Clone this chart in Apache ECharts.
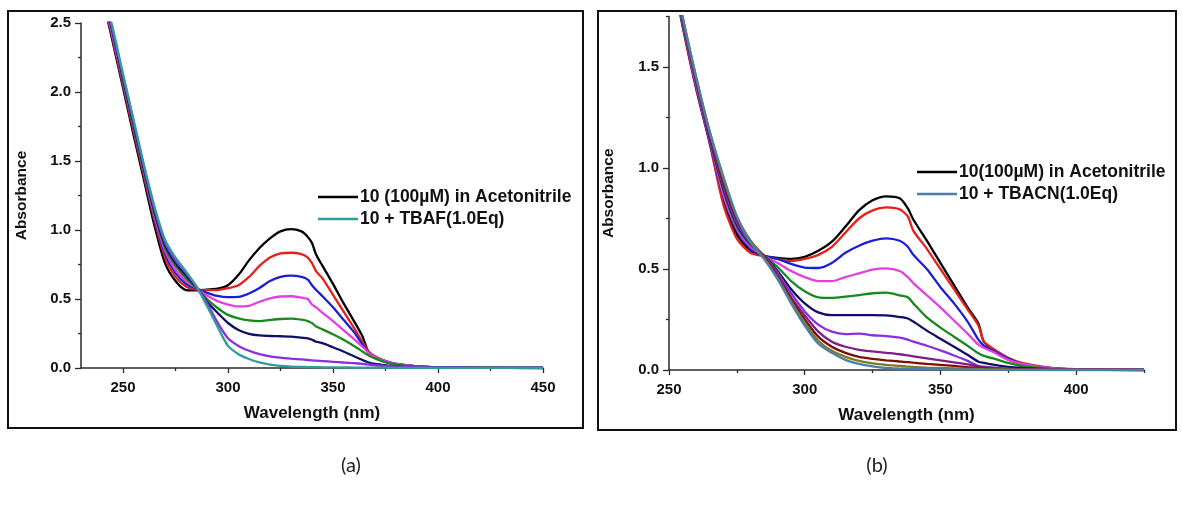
<!DOCTYPE html>
<html>
<head>
<meta charset="utf-8">
<script src="https://cdn.jsdelivr.net/npm/echarts@6/dist/echarts.min.js"></script>
<style>
  html, body { margin: 0; padding: 0; background: #fff; }
  #chart { width: 1182px; height: 506px; }
</style>
</head>
<body>
<div id="chart"></div>
<script>
// UV-vis titration spectra of compound 10 in acetonitrile
// (a) with TBAF, (b) with TBACN

// ---- panel (a): wavelengths (nm) ----
const wlA = [240, 245, 250, 255, 260, 265, 270, 275, 280, 285, 290, 295, 300, 305, 310, 315, 320, 325, 330, 335, 338, 340, 342, 345, 350, 355, 360, 364, 367, 370, 375, 380, 390, 400, 420, 450];

const a_black   = [2.70, 2.37, 2.03, 1.69, 1.36, 1.03, 0.76, 0.63, 0.565, 0.562, 0.568, 0.575, 0.60, 0.675, 0.78, 0.87, 0.94, 0.99, 1.007, 0.99, 0.95, 0.905, 0.82, 0.74, 0.61, 0.47, 0.34, 0.23, 0.11, 0.075, 0.045, 0.028, 0.012, 0.005, 0.002, 0];
const a_red     = [2.71, 2.39, 2.05, 1.72, 1.39, 1.07, 0.80, 0.66, 0.59, 0.568, 0.565, 0.565, 0.578, 0.60, 0.66, 0.74, 0.80, 0.83, 0.835, 0.825, 0.80, 0.76, 0.70, 0.65, 0.53, 0.41, 0.29, 0.19, 0.12, 0.085, 0.05, 0.03, 0.012, 0.005, 0.002, 0];
const a_blue    = [2.72, 2.40, 2.07, 1.74, 1.41, 1.09, 0.83, 0.69, 0.61, 0.575, 0.545, 0.522, 0.513, 0.515, 0.54, 0.58, 0.63, 0.66, 0.67, 0.66, 0.64, 0.60, 0.565, 0.52, 0.44, 0.35, 0.26, 0.17, 0.11, 0.08, 0.05, 0.03, 0.012, 0.005, 0.002, 0];
const a_magenta = [2.72, 2.41, 2.08, 1.75, 1.42, 1.10, 0.85, 0.71, 0.63, 0.578, 0.525, 0.485, 0.46, 0.446, 0.45, 0.48, 0.505, 0.518, 0.52, 0.51, 0.50, 0.46, 0.44, 0.40, 0.34, 0.275, 0.21, 0.155, 0.11, 0.08, 0.05, 0.03, 0.012, 0.005, 0.002, 0];
const a_green   = [2.73, 2.43, 2.09, 1.76, 1.43, 1.12, 0.87, 0.74, 0.65, 0.58, 0.50, 0.435, 0.385, 0.36, 0.345, 0.34, 0.348, 0.355, 0.358, 0.35, 0.34, 0.325, 0.30, 0.28, 0.245, 0.205, 0.16, 0.12, 0.09, 0.07, 0.042, 0.025, 0.01, 0.004, 0.002, 0];
const a_navy    = [2.73, 2.44, 2.10, 1.77, 1.44, 1.13, 0.89, 0.76, 0.67, 0.585, 0.48, 0.40, 0.326, 0.275, 0.248, 0.236, 0.232, 0.23, 0.228, 0.22, 0.215, 0.205, 0.19, 0.18, 0.15, 0.12, 0.085, 0.058, 0.04, 0.03, 0.02, 0.012, 0.006, 0.003, 0.001, 0];
const a_violet  = [2.74, 2.45, 2.12, 1.79, 1.46, 1.15, 0.91, 0.78, 0.69, 0.59, 0.47, 0.33, 0.215, 0.16, 0.125, 0.10, 0.085, 0.075, 0.068, 0.062, 0.058, 0.055, 0.053, 0.05, 0.045, 0.04, 0.035, 0.03, 0.025, 0.02, 0.015, 0.01, 0.005, 0.003, 0.001, 0];
const a_teal    = [2.75, 2.47, 2.13, 1.80, 1.47, 1.17, 0.93, 0.80, 0.70, 0.59, 0.45, 0.30, 0.16, 0.10, 0.065, 0.04, 0.025, 0.015, 0.01, 0.008, 0.007, 0.006, 0.006, 0.005, 0.004, 0.004, 0.003, 0.003, 0.002, 0.002, 0.002, 0.001, 0.001, 0, 0, 0];

// ---- panel (b): wavelengths (nm) ----
const wlB = [250, 255, 260, 265, 270, 275, 280, 285, 290, 295, 300, 305, 310, 315, 320, 325, 330, 335, 338, 340, 345, 350, 355, 360, 364, 366, 370, 375, 380, 390, 400, 425];

const b_black   = [2.05, 1.71, 1.40, 1.13, 0.84, 0.67, 0.59, 0.565, 0.555, 0.55, 0.56, 0.59, 0.635, 0.71, 0.79, 0.84, 0.86, 0.85, 0.80, 0.745, 0.64, 0.53, 0.42, 0.31, 0.23, 0.14, 0.095, 0.055, 0.03, 0.01, 0.003, 0];
const b_red     = [2.04, 1.70, 1.39, 1.12, 0.82, 0.65, 0.58, 0.563, 0.55, 0.54, 0.55, 0.57, 0.61, 0.68, 0.75, 0.79, 0.805, 0.795, 0.76, 0.69, 0.60, 0.50, 0.40, 0.30, 0.22, 0.14, 0.10, 0.06, 0.035, 0.012, 0.004, 0];
const b_blue    = [2.05, 1.71, 1.40, 1.13, 0.86, 0.69, 0.60, 0.565, 0.55, 0.525, 0.507, 0.505, 0.53, 0.58, 0.615, 0.64, 0.652, 0.64, 0.61, 0.57, 0.50, 0.41, 0.33, 0.24, 0.15, 0.12, 0.09, 0.055, 0.03, 0.01, 0.003, 0];
const b_magenta = [2.06, 1.72, 1.41, 1.14, 0.87, 0.70, 0.61, 0.565, 0.53, 0.49, 0.46, 0.44, 0.44, 0.46, 0.478, 0.497, 0.503, 0.49, 0.46, 0.43, 0.37, 0.31, 0.245, 0.18, 0.125, 0.11, 0.085, 0.05, 0.03, 0.01, 0.003, 0];
const b_green   = [2.06, 1.72, 1.42, 1.15, 0.89, 0.71, 0.62, 0.566, 0.51, 0.44, 0.39, 0.36, 0.357, 0.363, 0.371, 0.38, 0.383, 0.37, 0.36, 0.33, 0.26, 0.21, 0.165, 0.12, 0.083, 0.07, 0.055, 0.035, 0.02, 0.007, 0.002, 0];
const b_navy    = [2.07, 1.73, 1.43, 1.15, 0.90, 0.72, 0.625, 0.566, 0.49, 0.40, 0.33, 0.285, 0.272, 0.272, 0.272, 0.272, 0.27, 0.262, 0.255, 0.24, 0.195, 0.155, 0.115, 0.075, 0.041, 0.035, 0.025, 0.015, 0.01, 0.004, 0.001, 0];
const b_violet  = [2.07, 1.73, 1.43, 1.16, 0.91, 0.73, 0.63, 0.565, 0.48, 0.38, 0.29, 0.225, 0.19, 0.178, 0.18, 0.172, 0.168, 0.16, 0.15, 0.14, 0.12, 0.097, 0.072, 0.045, 0.02, 0.015, 0.01, 0.006, 0.004, 0.002, 0.001, 0];
const b_purple  = [2.08, 1.74, 1.44, 1.17, 0.92, 0.74, 0.635, 0.563, 0.47, 0.36, 0.27, 0.19, 0.14, 0.115, 0.10, 0.092, 0.085, 0.078, 0.072, 0.068, 0.058, 0.048, 0.038, 0.028, 0.018, 0.015, 0.01, 0.006, 0.004, 0.002, 0.001, 0];
const b_maroon  = [2.08, 1.74, 1.44, 1.17, 0.93, 0.75, 0.64, 0.56, 0.46, 0.35, 0.25, 0.165, 0.115, 0.085, 0.065, 0.055, 0.048, 0.042, 0.039, 0.036, 0.03, 0.025, 0.02, 0.014, 0.01, 0.008, 0.005, 0.003, 0.002, 0.001, 0, 0];
const b_olive   = [2.09, 1.75, 1.45, 1.18, 0.95, 0.76, 0.64, 0.555, 0.455, 0.34, 0.235, 0.145, 0.095, 0.065, 0.045, 0.033, 0.025, 0.02, 0.017, 0.015, 0.012, 0.01, 0.008, 0.006, 0.005, 0.004, 0.003, 0.002, 0.001, 0, 0, 0];
const b_steel   = [2.09, 1.75, 1.45, 1.18, 0.96, 0.76, 0.63, 0.55, 0.45, 0.33, 0.22, 0.13, 0.085, 0.05, 0.03, 0.018, 0.01, 0.007, 0.006, 0.005, 0.004, 0.003, 0.002, 0.002, 0.001, 0.001, 0.001, 0, 0, 0, 0, 0];

// ---- axis ticks ----
const xMajorA = [250, 300, 350, 400, 450];
const xMinorA = [275, 325, 375, 425];
const yMajorA = [0, 0.5, 1.0, 1.5, 2.0, 2.5];
const yMinorA = [0.25, 0.75, 1.25, 1.75, 2.25];
const xMajorB = [250, 300, 350, 400];
const xMinorB = [275, 325, 375, 425];
const yMajorB = [0, 0.5, 1.0, 1.5];
const yMinorB = [0.25, 0.75, 1.25, 1.75];

// ---- legend labels ----
const legendA = ['10 (100\u00B5M) in Acetonitrile', '10 + TBAF(1.0Eq)'];
const legendB = ['10(100\u00B5M) in Acetonitrile', '10 + TBACN(1.0Eq)'];

const FONT = '"Liberation Sans", Arial, sans-serif';
const AXIS_COLOR = '#2a2a2a';
const TEXT_COLOR = '#111';

function pairs(xs, ys) { return xs.map((x, i) => [x, ys[i]]); }

function lineSeries(name, xs, ys, color, xi, yi) {
  return {
    type: 'line', name: name, data: pairs(xs, ys),
    xAxisIndex: xi, yAxisIndex: yi,
    showSymbol: false, smooth: 0.25, clip: true,
    lineStyle: { color: color, width: 2.3 }, itemStyle: { color: color },
    emphasis: { disabled: true }, silent: true
  };
}

function mainX(grid, min, max, ticks) {
  return {
    type: 'value', gridIndex: grid, min: min, max: max,
    name: 'Wavelength (nm)', nameLocation: 'middle', nameGap: 37,
    nameTextStyle: { fontFamily: FONT, fontWeight: 'bold', fontSize: 17, color: TEXT_COLOR },
    axisLine: { show: true, onZero: false, lineStyle: { color: AXIS_COLOR, width: 1.5 } },
    axisTick: { show: true, inside: false, length: 5, customValues: ticks, lineStyle: { color: AXIS_COLOR, width: 1.3 } },
    axisLabel: { customValues: ticks, margin: 12, fontFamily: FONT, fontWeight: 'bold', fontSize: 15, color: TEXT_COLOR },
    splitLine: { show: false }
  };
}
function minorX(grid, min, max, ticks) {
  return {
    type: 'value', gridIndex: grid, min: min, max: max, position: 'bottom',
    axisLine: { show: false, onZero: false },
    axisTick: { show: true, inside: false, length: 3, customValues: ticks, lineStyle: { color: AXIS_COLOR, width: 1.3 } },
    axisLabel: { show: false }, splitLine: { show: false }
  };
}
function mainY(grid, min, max, ticks, gap) {
  return {
    type: 'value', gridIndex: grid, min: min, max: max,
    name: 'Absorbance', nameLocation: 'middle', nameGap: gap,
    nameTextStyle: { fontFamily: FONT, fontWeight: 'bold', fontSize: 15.5, color: TEXT_COLOR },
    axisLine: { show: true, onZero: false, lineStyle: { color: AXIS_COLOR, width: 1.5 } },
    axisTick: { show: true, inside: false, length: 6, customValues: ticks, lineStyle: { color: AXIS_COLOR, width: 1.3 } },
    axisLabel: { customValues: ticks, margin: 10, formatter: v => v.toFixed(1), fontFamily: FONT, fontWeight: 'bold', fontSize: 15, color: TEXT_COLOR },
    splitLine: { show: false }
  };
}
function minorY(grid, min, max, ticks) {
  return {
    type: 'value', gridIndex: grid, min: min, max: max, position: 'left',
    axisLine: { show: false, onZero: false },
    axisTick: { show: true, inside: false, length: 3, customValues: ticks, lineStyle: { color: AXIS_COLOR, width: 1.3 } },
    axisLabel: { show: false }, splitLine: { show: false }
  };
}

function legendBox(left, top, names) {
  return {
    orient: 'vertical', left: left, top: top, data: names,
    icon: 'rect', itemWidth: 40, itemHeight: 2.5, itemGap: 4,
    selectedMode: false, padding: 0,
    textStyle: { fontFamily: FONT, fontWeight: 'bold', fontSize: 17.5, color: TEXT_COLOR, lineHeight: 18, padding: [0, 0, 0, -3] }
  };
}

const chart = echarts.init(document.getElementById('chart'), null, { renderer: 'canvas' });

const option = {
  animation: false,
  backgroundColor: '#ffffff',
  grid: [
    { left: 81, top: 23, width: 462, height: 345 },
    { left: 669, top: 16.5, width: 475, height: 353.5 }
  ],
  xAxis: [
    mainX(0, 230, 450, xMajorA),
    minorX(0, 230, 450, xMinorA),
    mainX(1, 250, 425, xMajorB),
    minorX(1, 250, 425, xMinorB)
  ],
  yAxis: [
    mainY(0, 0, 2.5, yMajorA, 51),
    minorY(0, 0, 2.5, yMinorA),
    mainY(1, 0, 1.75, yMajorB, 52),
    minorY(1, 0, 1.75, yMinorB)
  ],
  legend: [
    legendBox(318, 188, legendA),
    legendBox(917, 163, legendB)
  ],
  series: [
    lineSeries(legendA[0], wlA, a_black, '#000000', 0, 0),
    lineSeries('a2', wlA, a_red, '#e3201b', 0, 0),
    lineSeries('a3', wlA, a_blue, '#1a1fd6', 0, 0),
    lineSeries('a4', wlA, a_magenta, '#e23fe0', 0, 0),
    lineSeries('a5', wlA, a_green, '#168a1c', 0, 0),
    lineSeries('a6', wlA, a_navy, '#0f0f66', 0, 0),
    lineSeries('a7', wlA, a_violet, '#8a2ee0', 0, 0),
    lineSeries(legendA[1], wlA, a_teal, '#339b9c', 0, 0),

    lineSeries(legendB[0], wlB, b_black, '#000000', 2, 2),
    lineSeries('b2', wlB, b_red, '#e3201b', 2, 2),
    lineSeries('b3', wlB, b_blue, '#1a1fd6', 2, 2),
    lineSeries('b4', wlB, b_magenta, '#e23fe0', 2, 2),
    lineSeries('b5', wlB, b_green, '#168a1c', 2, 2),
    lineSeries('b6', wlB, b_navy, '#0f0f66', 2, 2),
    lineSeries('b7', wlB, b_violet, '#8a2ee0', 2, 2),
    lineSeries('b8', wlB, b_purple, '#7d1f86', 2, 2),
    lineSeries('b9', wlB, b_maroon, '#7d0d10', 2, 2),
    lineSeries('b10', wlB, b_olive, '#7f7a22', 2, 2),
    lineSeries(legendB[1], wlB, b_steel, '#4a7fab', 2, 2)
  ],
  graphic: [
    { type: 'rect', shape: { x: 8, y: 11, width: 575, height: 417 }, style: { fill: 'none', stroke: '#111', lineWidth: 2 }, silent: true },
    { type: 'rect', shape: { x: 598, y: 11, width: 578, height: 419 }, style: { fill: 'none', stroke: '#111', lineWidth: 2 }, silent: true },
    { type: 'text', x: 351, y: 466, style: { text: '(a)', font: '20px Lato, "Open Sans", sans-serif', fill: '#222', align: 'center', verticalAlign: 'middle' }, silent: true },
    { type: 'text', x: 877, y: 466, style: { text: '(b)', font: '20px Lato, "Open Sans", sans-serif', fill: '#222', align: 'center', verticalAlign: 'middle' }, silent: true }
  ]
};

chart.setOption(option);
</script>
</body>
</html>
